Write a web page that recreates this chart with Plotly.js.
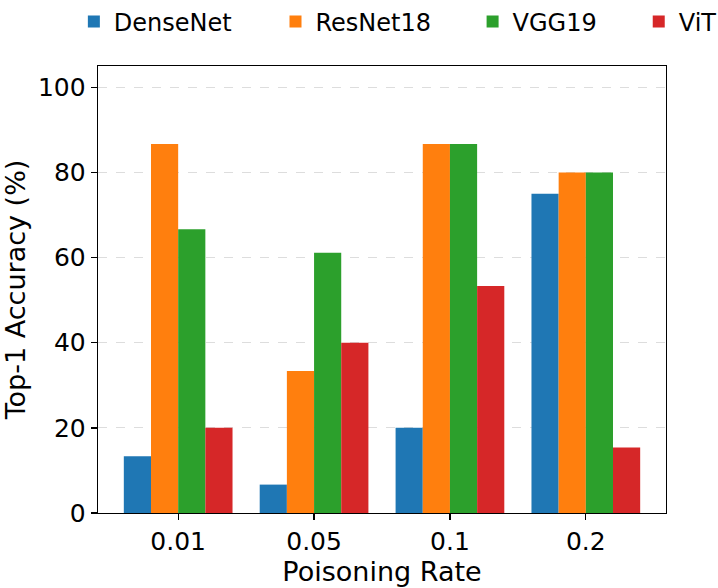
<!DOCTYPE html>
<html>
<head>
<meta charset="utf-8">
<script src="https://cdn.plot.ly/plotly-3.0.1.min.js"></script>
<style>html,body{margin:0;padding:0;background:#fff;}#chart{width:718px;height:588px;}</style>
</head>
<body>
<div id="chart"></div>
<script>
var rates = ["0.01", "0.05", "0.1", "0.2"];
var seriesNames = ["DenseNet", "ResNet18", "VGG19", "ViT"];
var denseNet = [13.33, 6.67, 20.0, 75.0];
var resNet18 = [86.67, 33.33, 86.67, 80.0];
var vgg19 = [66.67, 61.11, 86.67, 80.0];
var vit = [20.0, 40.0, 53.33, 15.38];
var yTicks = [0, 20, 40, 60, 80, 100];

var seriesValues = [denseNet, resNet18, vgg19, vit];
var colors = ["#1f77b4", "#ff7f0e", "#2ca02c", "#d62728"];
var legendIds = ["legend", "legend2", "legend3", "legend4"];
var legendX = [-0.0425, 0.3125, 0.6595, 0.952];

var FONT = "DejaVu Sans, Liberation Sans, sans-serif";

var traces = seriesNames.map(function (name, i) {
  return {
    type: "bar",
    name: name,
    x: rates,
    y: seriesValues[i],
    marker: { color: colors[i], line: { width: 0 } },
    legend: legendIds[i],
    hoverinfo: "skip"
  };
});

var layout = {
  width: 718,
  height: 588,
  margin: { l: 98, r: 52, t: 66, b: 75, autoexpand: false },
  paper_bgcolor: "#ffffff",
  plot_bgcolor: "#ffffff",
  font: { family: FONT, size: 24, color: "#000000" },
  barmode: "group",
  bargap: 0.2,
  bargroupgap: 0,
  xaxis: {
    type: "category",
    range: [-0.59, 3.59],
    showline: true,
    linecolor: "#000000",
    linewidth: 1.3,
    mirror: true,
    ticks: "outside",
    ticklen: 6,
    tickwidth: 1.3,
    tickcolor: "#000000",
    showgrid: false,
    zeroline: false,
    automargin: true,
    tickfont: { family: FONT, size: 25, color: "#000000" },
    title: { text: "Poisoning Rate", standoff: 6, font: { family: FONT, size: 27, color: "#000000" } }
  },
  yaxis: {
    range: [0, 105],
    tickvals: yTicks,
    ticktext: yTicks.map(String),
    showline: true,
    linecolor: "#000000",
    linewidth: 1.3,
    mirror: true,
    ticks: "outside",
    ticklen: 6,
    tickwidth: 1.3,
    tickcolor: "#000000",
    showgrid: true,
    gridcolor: "#dddddd",
    griddash: "dash",
    gridwidth: 1,
    zeroline: false,
    automargin: true,
    tickfont: { family: FONT, size: 25, color: "#000000" },
    title: { text: "Top-1 Accuracy (%)", standoff: 10, font: { family: FONT, size: 27, color: "#000000" } }
  },
  showlegend: true
};

legendIds.forEach(function (id, i) {
  layout[id] = {
    orientation: "h",
    x: legendX[i],
    xanchor: "left",
    y: 1.149,
    yanchor: "top",
    bgcolor: "rgba(0,0,0,0)",
    borderwidth: 0,
    font: { family: FONT, size: 24, color: "#000000" },
    itemclick: false,
    itemdoubleclick: false
  };
});

Plotly.newPlot("chart", traces, layout, { staticPlot: true, displayModeBar: false });
</script>
</body>
</html>
